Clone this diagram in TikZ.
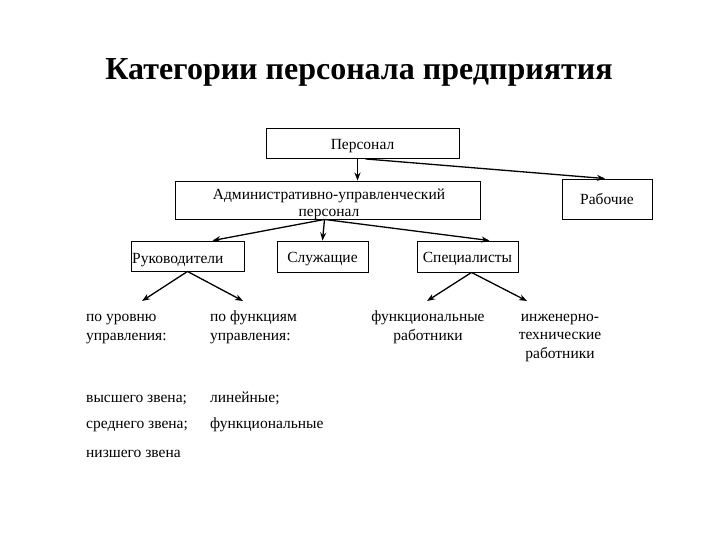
\documentclass[tikz,border=0pt]{standalone}
\usepackage{fontspec}
\setmainfont{Liberation Serif}
\usetikzlibrary{arrows.meta}
\begin{document}
\begin{tikzpicture}[x=1pt,y=-1pt,
  box/.style={draw, line width=0.9pt, inner sep=0pt, text height=11.5pt, text depth=0pt, font=\fontsize{15.5}{17}\selectfont},
  lbl/.style={inner sep=0pt, font=\fontsize{15.5}{18.5}\selectfont},
  arr/.style={line width=1.3pt, -{Stealth[length=8pt,width=6pt]}}]
\useasboundingbox (0,0) rectangle (720,540);
\node[font=\fontsize{32}{38}\bfseries\selectfont, inner sep=0pt] (title) at (359,72) {Категории персонала предприятия};
\node[box, minimum width=193pt, minimum height=30pt] (pers) at (362.5,143.5) {Персонал};
\node[box, minimum width=305pt, minimum height=38pt] (aup) at (327.5,200) {};
\node[lbl, align=center, anchor=base, font=\fontsize{15.5}{17}\selectfont] (auptext) at (329,216) {Административно-управленческий\\персонал};
\node[box, minimum width=90pt, minimum height=40pt] (rab) at (607,199) {Рабочие};
\node[box, minimum width=113pt, minimum height=30pt] (ruk) at (187.5,256) {};
\node[lbl, anchor=base west] (ruktext) at (132,263) {Руководители};
\node[box, minimum width=91pt, minimum height=31pt] (sluz) at (322.5,256.5) {Служащие};
\node[box, minimum width=101pt, minimum height=31pt] (spec) at (467.5,256.5) {Специалисты};
\draw[arr] ([xshift=-5pt]pers.south) -- ([xshift=30pt]aup.north);
\draw[arr] ([xshift=3pt]pers.south) -- ([xshift=-2pt]rab.north);
\draw[arr] ([xshift=-3pt]aup.south) -- ([xshift=25pt]ruk.north);
\draw[arr] ([xshift=-3pt]aup.south) -- (sluz.north);
\draw[arr] ([xshift=-3pt]aup.south) -- ([xshift=22pt]spec.north);
\coordinate (c1) at (142,301);
\coordinate (c2) at (243,301);
\coordinate (c3) at (427,301);
\coordinate (c4) at (527,301);
\draw[arr] (ruk.south) -- (c1);
\draw[arr] (ruk.south) -- (c2);
\draw[arr] ([xshift=4pt]spec.south) -- (c3);
\draw[arr] ([xshift=4pt]spec.south) -- (c4);
\node[lbl, align=left, anchor=base west] (t1) at (86,340) {по уровню\\управления:};
\node[lbl, align=left, anchor=base west] (t2) at (210,340) {по функциям\\управления:};
\node[lbl, align=center, anchor=base] (t3) at (428,340) {функциональные\\работники};
\node[lbl, align=center, anchor=base] (t4) at (560,358) {инженерно-\\технические\\работники};
\node[lbl, anchor=base west] (t5) at (86,402) {высшего звена;};
\node[lbl, anchor=base west] (t6) at (210,402) {линейные;};
\node[lbl, anchor=base west] (t7) at (86,428) {среднего звена;};
\node[lbl, anchor=base west] (t8) at (210,428) {функциональные};
\node[lbl, anchor=base west] (t9) at (86,457) {низшего звена};
\end{tikzpicture}
\end{document}
